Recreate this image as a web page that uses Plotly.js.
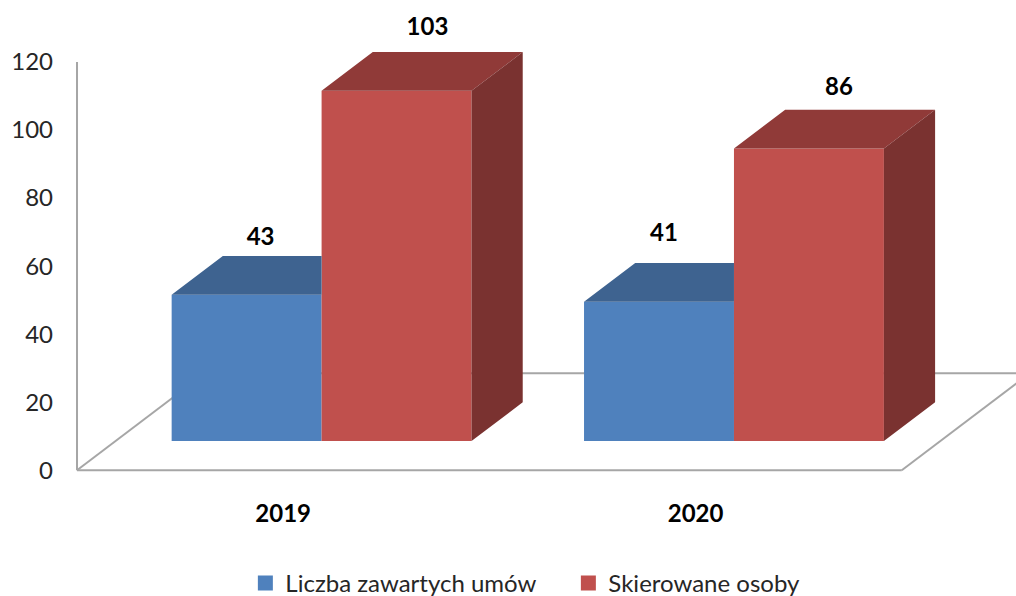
<!DOCTYPE html>
<html>
<head>
<meta charset="utf-8">
<script src="https://cdn.plot.ly/plotly-3.0.1.min.js"></script>
<style>html,body{margin:0;padding:0;background:#fff;overflow:hidden}#chart{width:1016px;height:596px}</style>
</head>
<body>
<div id="chart"></div>
<script>
// --- data ---
const categories = ['2019', '2020'];
const umowy = [43, 41];
const osoby = [103, 86];
const seriesNames = ['Liczba zawartych umów', 'Skierowane osoby'];
const yTicks = [0, 20, 40, 60, 80, 100, 120];

// --- oblique 3D look, in axis units ---
const depthX = 0.3103, depthY = 28.5;    // full floor depth
const barStart = 0.3, barDepth = 0.4;    // where the bars sit on the floor
const barW = 0.3636;
const catPos = categories.map((c, i) => i);
const floorX = [-0.5, 1.5];
const front = catPos.map(p => p + barStart * depthX);
const base = barStart * depthY;
const dx = barDepth * depthX, dy = barDepth * depthY;

// hand-placed value labels in the reference (shift from the bar centre)
const labelShiftX = [[0.034, 0.012], [0.075, 0.073]];
const labelLift = [[16.1, 19.1], [17.8, 17.0]];

function poly(list) {
  const x = [], y = [];
  list.forEach(p => { p.forEach(q => { x.push(q[0]); y.push(q[1]); }); x.push(null); y.push(null); });
  return {x, y};
}
const facet = (pts, color) => Object.assign({
  type: 'scatter', mode: 'lines', fill: 'toself', fillcolor: color,
  line: {width: 0, color: color}, hoverinfo: 'skip', showlegend: false, cliponaxis: false
}, pts);

const blueTop = poly(front.map((f, i) => {
  const t = base + umowy[i];
  return [[f - barW, t], [f - barW + dx, t + dy], [f, t + dy], [f, t]];
}));
const redTop = poly(front.map((f, i) => {
  const t = base + osoby[i];
  return [[f, t], [f + dx, t + dy], [f + barW + dx, t + dy], [f + barW, t]];
}));
const redSide = poly(front.map((f, i) => {
  const t = base + osoby[i];
  return [[f + barW, base], [f + barW + dx, base + dy], [f + barW + dx, t + dy], [f + barW, t]];
}));

const labelFont = {family: 'Lato, sans-serif', size: 24, color: '#000', weight: 700};
const labelTrace = (vals, idx, sign) => ({
  type: 'scatter', mode: 'text', showlegend: false, hoverinfo: 'skip', cliponaxis: false,
  x: front.map((f, i) => f + sign * barW / 2 + labelShiftX[idx][i]),
  y: vals.map((v, i) => base + v + dy + labelLift[idx][i] - 11),
  text: vals.map(String), textposition: 'middle center', textfont: labelFont
});
const legendKey = (name, color) => ({
  type: 'scatter', mode: 'markers', name: name, x: [null], y: [null],
  marker: {symbol: 'square', size: 15, color: color}, hoverinfo: 'skip'
});

const traces = [
  {type: 'bar', name: seriesNames[0], x: front, y: umowy, base: base, width: barW, offset: -barW,
   marker: {color: '#4F81BD', line: {width: 0}}, hoverinfo: 'y', showlegend: false},
  {type: 'bar', name: seriesNames[1], x: front, y: osoby, base: base, width: barW, offset: 0,
   marker: {color: '#C0504D', line: {width: 0}}, hoverinfo: 'y', showlegend: false},
  facet(blueTop, '#3E6390'),
  facet(redTop, '#903A38'),
  facet(redSide, '#7A3230'),
  labelTrace(umowy, 0, -1),
  labelTrace(osoby, 1, 1),
  legendKey(seriesNames[0], '#4F81BD'),
  legendKey(seriesNames[1], '#C0504D')
];

const wall = {color: '#a6a6a6', width: 2};
const seg = (x0, y0, x1, y1) => ({type: 'line', xref: 'x', yref: 'y', x0, y0, x1, y1, line: wall, layer: 'below'});
const bx = floorX[0], ex = floorX[1];

const layout = {
  width: 1016, height: 596,
  margin: {l: 70, r: 0, t: 0, b: 119, pad: 0},
  paper_bgcolor: '#fff', plot_bgcolor: '#fff',
  barmode: 'overlay',
  xaxis: {
    range: [-0.517, 1.777], showgrid: false, zeroline: false, showline: false,
    tickvals: catPos, ticktext: categories, ticks: '', ticklabelstandoff: 20,
    tickfont: {family: 'Lato, sans-serif', size: 24, color: '#000', weight: 700}
  },
  yaxis: {
    range: [-2, 138.24], showgrid: false, zeroline: false, showline: false,
    tickvals: yTicks, ticks: '', ticklabelstandoff: 16,
    tickfont: {family: 'Lato, sans-serif', size: 24, color: '#262626'}
  },
  shapes: [
    seg(bx, 0, bx, 120),
    seg(bx, 0, ex, 0),
    seg(bx, 0, bx + depthX, depthY),
    seg(ex, 0, ex + depthX, depthY),
    seg(bx + depthX, depthY, ex + depthX, depthY)
  ],
  legend: {
    orientation: 'h', xref: 'container', yref: 'container',
    x: 0.2415, y: 0.059, xanchor: 'left', yanchor: 'top',
    itemsizing: 'trace', entrywidth: 278, entrywidthmode: 'pixels',
    font: {family: 'Lato, sans-serif', size: 24, color: '#262626'},
    bgcolor: 'rgba(0,0,0,0)', traceorder: 'normal'
  }
};
Plotly.newPlot('chart', traces, layout, {displayModeBar: false, staticPlot: true});
</script>
</body>
</html>
